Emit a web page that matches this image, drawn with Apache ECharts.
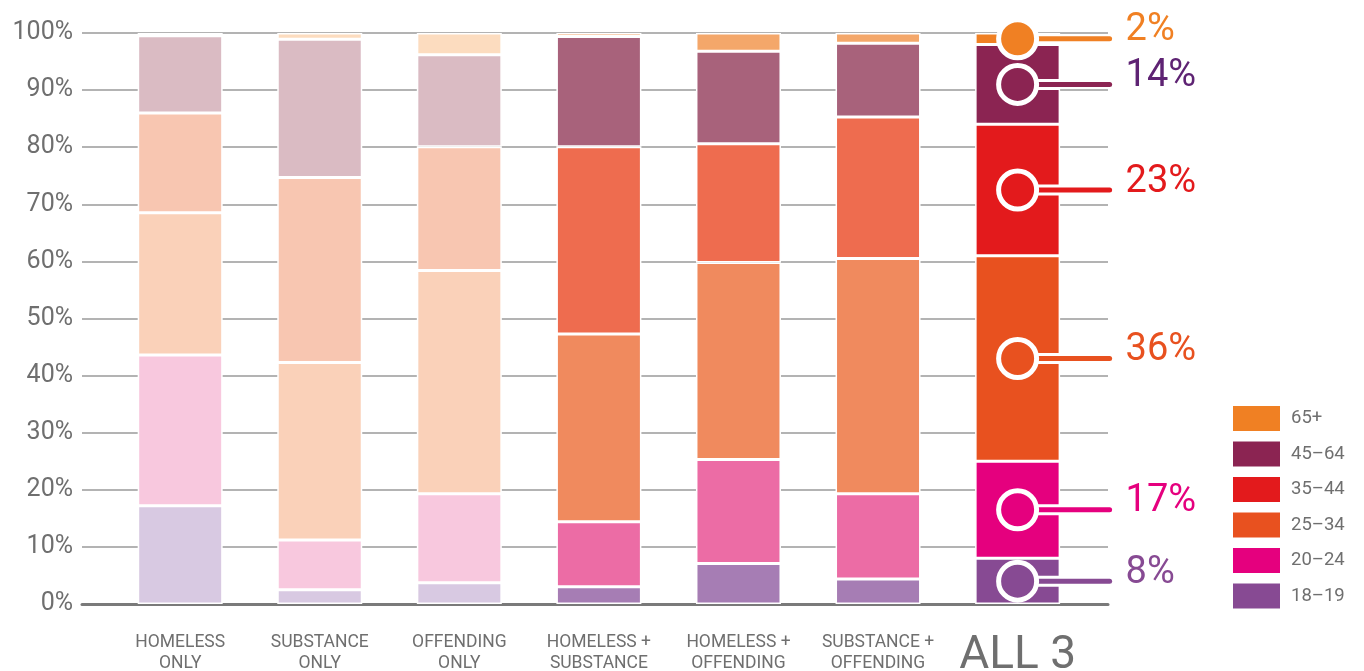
<!DOCTYPE html>
<html>
<head>
<meta charset="utf-8">
<script src="https://cdn.jsdelivr.net/npm/echarts@6/dist/echarts.min.js"></script>
<style>
  html, body { margin: 0; padding: 0; background: #fff; }
  #chart { width: 1364px; height: 671px; }
</style>
</head>
<body>
<div id="chart"></div>
<script>
// Categories and age groups
const categories = ['HOMELESS\nONLY', 'SUBSTANCE\nONLY', 'OFFENDING\nONLY', 'HOMELESS +\nSUBSTANCE', 'HOMELESS +\nOFFENDING', 'SUBSTANCE +\nOFFENDING', 'ALL 3']
const ageGroups = ['18–19', '20–24', '25–34', '35–44', '45–64', '65+']
const yTicks = [0, 10, 20, 30, 40, 50, 60, 70, 80, 90, 100]

// Share of each age group (%), one value per category
const age18to19 = [17.2, 2.5, 3.7, 3.0, 7.1, 4.4, 8]
const age20to24 = [26.4, 8.7, 15.6, 11.4, 18.2, 14.9, 17]
const age25to34 = [24.9, 31.1, 39.1, 32.9, 34.5, 41.2, 36]
const age35to44 = [17.5, 32.4, 21.7, 32.8, 20.8, 24.8, 23]
const age45to64 = [13.5, 24.2, 16.1, 19.3, 16.2, 12.9, 14]
const age65plus = [0.5, 1.1, 3.8, 0.6, 3.2, 1.8, 2]

const seriesValues = [age18to19, age20to24, age25to34, age35to44, age45to64, age65plus]

// colour tiers: faded (single issue), medium (two issues), full (all 3)
const tierOf = [0, 0, 0, 1, 1, 1, 2]
const palette = [
  ['#d8c9e2', '#a67db4', '#874a93'],
  ['#f8c8de', '#ec6ca5', '#e5007e'],
  ['#fad1b9', '#f08a5e', '#e8511f'],
  ['#f8c6b1', '#ee6c4f', '#e31a1c'],
  ['#dabbc3', '#a8627b', '#8b2452'],
  ['#fcdcbf', '#f4a76a', '#f08023']
]
const calloutTextColors = ['#874a93', '#e5007e', '#e8511f', '#e31a1c', '#5e2373', '#f08023']

const chart = echarts.init(document.getElementById('chart'))

// callouts for the last bar (ALL 3)
const lastIdx = categories.length - 1
let running = 0
const calloutData = seriesValues.map((vals, i) => {
  const v = vals[lastIdx]
  const mid = running + v / 2
  running += v
  return [lastIdx, mid, v, i]
})

const barSeries = seriesValues.map((vals, i) => ({
  name: ageGroups[i],
  type: 'bar',
  stack: 'total',
  xAxisIndex: 1,
  yAxisIndex: 1,
  barWidth: 85,
  itemStyle: { color: palette[i][2], borderColor: '#fff', borderWidth: 1.5 },
  data: vals.map((v, c) => ({ value: v, itemStyle: { color: palette[i][tierOf[c]] } }))
}))

const calloutSeries = {
  type: 'custom',
  xAxisIndex: 1,
  yAxisIndex: 1,
  z: 10,
  clip: false,
  silent: true,
  data: calloutData,
  renderItem: (params, api) => {
    const pt = api.coord([api.value(0), api.value(1)])
    const gi = api.value(3)
    const col = palette[gi][2]
    return {
      type: 'group',
      children: [
        { type: 'line', shape: { x1: pt[0], y1: pt[1], x2: pt[0] + 42, y2: pt[1] },
          style: { stroke: '#fff', lineWidth: 11 } },
        { type: 'line', shape: { x1: pt[0], y1: pt[1], x2: pt[0] + 92, y2: pt[1] },
          style: { stroke: col, lineWidth: 5, lineCap: 'round' } },
        { type: 'circle', shape: { cx: pt[0], cy: pt[1], r: 19 },
          style: { fill: col, stroke: '#fff', lineWidth: 5 } },
        { type: 'text', x: pt[0] + 108, y: pt[1] - 8,
          style: { text: api.value(2) + '%', fill: calloutTextColors[gi], font: '38px Roboto',
                   textAlign: 'left', textVerticalAlign: 'middle' } }
      ]
    }
  }
}

chart.setOption({
  backgroundColor: '#fff',
  animation: false,
  textStyle: { fontFamily: 'Roboto' },
  legend: {
    data: ageGroups.slice().reverse(),
    orient: 'vertical',
    left: 1226,
    top: 399,
    itemWidth: 49,
    itemHeight: 27,
    itemGap: 6.5,
    icon: 'rect',
    selectedMode: false,
    textStyle: { fontSize: 18.5, color: '#6f6f6f', fontFamily: 'Roboto', padding: [0, 0, 0, 5] }
  },
  grid: [
    { left: 82, right: 256, top: 33, bottom: 67, outerBoundsMode: 'none' },
    { left: 110.4, right: 276.6, top: 33, bottom: 67, outerBoundsMode: 'none' }
  ],
  xAxis: [
    {
      type: 'value', gridIndex: 0, min: 0, max: 1,
      axisLine: { show: true, lineStyle: { color: '#7a7a7a', width: 3 } },
      axisTick: { show: false }, axisLabel: { show: false }, splitLine: { show: false }
    },
    {
      type: 'category', gridIndex: 1, data: categories,
      axisLine: { show: false }, axisTick: { show: false },
      axisLabel: {
        interval: 0,
        margin: 28,
        color: '#6f6f6f',
        formatter: (v) => v === 'ALL 3' ? '{big|' + v + '}' : v.split('\n').map(s => '{small|' + s + '}').join('\n'),
        rich: {
          small: { fontSize: 17.5, lineHeight: 21, color: '#6f6f6f', fontFamily: 'Roboto' },
          big: { fontSize: 46, lineHeight: 48, color: '#6f6f6f', fontFamily: 'Roboto' }
        }
      }
    }
  ],
  yAxis: [
    {
      type: 'value', gridIndex: 0, min: yTicks[0], max: yTicks[yTicks.length - 1], interval: 10,
      axisLine: { show: false }, axisTick: { show: false },
      axisLabel: { formatter: '{value}%', fontSize: 25, color: '#6f6f6f', margin: 9, fontFamily: 'Roboto' },
      splitLine: { show: true, lineStyle: { color: '#9a9a9a', width: 1.6 } }
    },
    {
      type: 'value', gridIndex: 1, min: 0, max: 100, show: false, splitLine: { show: false }
    }
  ],
  series: [...barSeries, calloutSeries]
})

window.addEventListener('resize', () => chart.resize())
</script>
</body>
</html>
